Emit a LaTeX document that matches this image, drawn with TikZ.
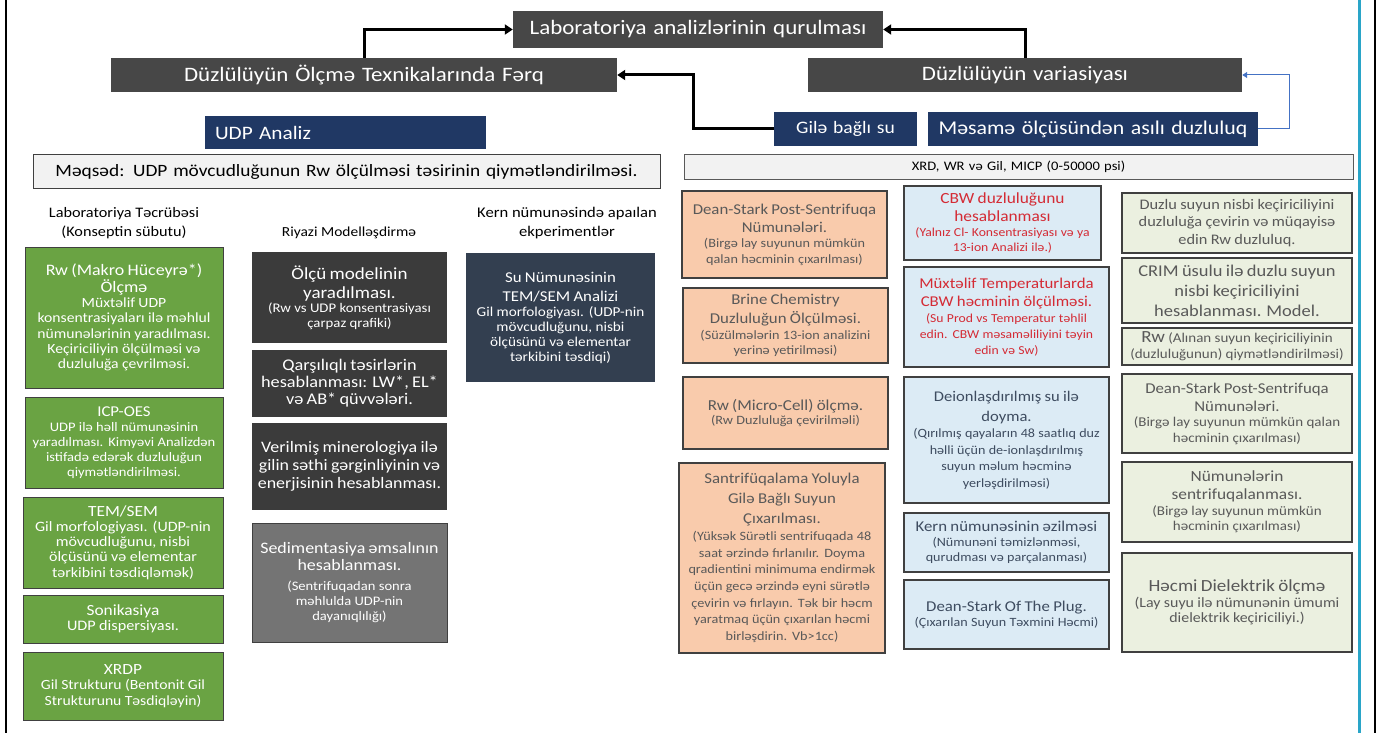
\documentclass[tikz,border=0pt]{standalone}
\usepackage{fontspec}
\setmainfont{Carlito}[FakeStretch=1.12]
\usetikzlibrary{arrows.meta}
\definecolor{topgray}{HTML}{474747}
\definecolor{navy}{HTML}{203864}
\definecolor{slate}{HTML}{333F50}
\definecolor{riydark}{HTML}{3B3B3B}
\definecolor{riylight}{HTML}{747474}
\definecolor{grn}{HTML}{6AA343}
\definecolor{peach}{HTML}{F9CBAC}
\definecolor{lblue}{HTML}{DCEBF5}
\definecolor{pgreen}{HTML}{EBF0E0}
\definecolor{lgray}{HTML}{F2F2F2}
\definecolor{bord}{HTML}{404040}
\definecolor{txgray}{HTML}{595959}
\definecolor{txslate}{HTML}{3E4C60}
\definecolor{txred}{HTML}{D42B35}
\definecolor{bordblue}{HTML}{2AA5C8}
\definecolor{arrblue}{HTML}{4472C4}
\newcommand\fs[2]{\fontsize{#1}{#2}\selectfont}
\newcommand\bx[7]{%
  \pgfmathsetmacro\bxw{#5-#3}\pgfmathsetmacro\bxh{#6-#4}\pgfmathsetmacro\bxt{#5-#3-4}%
  \node[#2, minimum width=\bxw pt, minimum height=\bxh pt, text width=\bxt pt,
        inner sep=0pt, align=center] (#1) at ({(#3+#5)/2},{(#4+#6)/2}) {#7};}
\tikzset{
  topbox/.style={fill=topgray, text=white, font=\fs{20.5}{22}},
  navybox/.style={fill=navy, text=white},
  greenbox/.style={fill=grn, draw=bord, line width=0.8pt, text=white},
  riybox/.style={fill=riydark, text=white},
  riylbox/.style={fill=riylight, draw=bord, line width=0.8pt, text=white},
  kernbox/.style={fill=slate, text=white},
  peachbox/.style={fill=peach, draw=bord, line width=1.2pt, text=txgray},
  bluebox/.style={fill=lblue, draw=bord, line width=1.2pt, text=txslate},
  redbox/.style={fill=lblue, draw=bord, line width=1.2pt, text=txred},
  pgbox/.style={fill=pgreen, draw=bord, line width=1.2pt, text=txgray},
  graybox/.style={fill=lgray, draw=bord, line width=1pt, text=black},
  header/.style={align=center, inner sep=0pt, text=black},
  blk/.style={line width=3pt, -{Triangle[length=8pt,width=10pt]}},
  blu/.style={line width=1pt, draw=arrblue, -{Triangle[length=5pt,width=6pt]}}
}
\begin{document}
\begin{tikzpicture}[x=1pt,y=-1pt]
\useasboundingbox (0,0) rectangle (1376,733);
\fill[white] (0,0) rectangle (1376,733);
\draw[line width=2.5pt] (6,0) -- (6,733);
\draw[line width=3pt, bordblue] (1359,0) -- (1359,733);
\draw[line width=2pt] (1375,0) -- (1375,733);

% top level
\bx{lab}{topbox}{513}{11}{883}{48}{Laboratoriya analizlərinin qurulması}
\bx{dzo}{topbox}{111}{58}{617}{92}{Düzlülüyün Ölçmə Texnikalarında Fərq}
\bx{dzv}{topbox}{808}{58}{1242}{92}{Düzlülüyün variasiyası}
\bx{gil}{navybox, font=\fs{17.5}{20}}{774}{112}{917}{146}{Gilə bağlı su}
\bx{mas}{navybox, font=\fs{19.5}{22}}{928}{112}{1258}{146}{Məsamə ölçüsündən asılı duzluluq}
\node[navybox, font=\fs{19}{22}, minimum width=281pt, minimum height=33pt, text width=261pt,
      inner sep=0pt, align=left] (udp) at (345.5,132.5) {UDP Analiz};
\bx{mq}{graybox, font=\fs{17.3}{20}}{33}{155}{660}{188}{Məqsəd: UDP mövcudluğunun Rw ölçülməsi təsirinin qiymətləndirilməsi.}
\bx{xrd}{graybox, draw=txgray, font=\fs{13}{14}}{684}{155}{1353}{179}{XRD, WR və Gil, MICP (0-50000 psi)}

\coordinate (c1) at (693,0);
\coordinate (c2) at (1289,0);
\draw[blk] (dzo.north) |- (lab.west);
\draw[blk] (dzv.north) |- (lab.east);
\draw[blk] (gil.west) -- (gil.west -| c1) |- (dzo.east);
\draw[blu] (mas.east) -- (mas.east -| c2) |- (dzv.east);

% headers
\node[header, font=\fs{14.5}{19}] (h1) at (124,223) {Laboratoriya Təcrübəsi\\(Konseptin sübutu)};
\node[header, font=\fs{13.8}{17}] (h2) at (349,233) {Riyazi Modelləşdirmə};
\node[header, font=\fs{14.8}{19}] (h3) at (567,223) {Kern nümunəsində apaılan\\ekperimentlər};

% green column
\bx{g1}{greenbox}{25}{247}{223}{388}{{\fs{16}{17}Rw (Makro Hüceyrə*)\\Ölçmə\par}{\fs{14}{15.3}Müxtəlif UDP\\konsentrasiyaları ilə məhlul\\nümunələrinin  yaradılması.\\Keçiriciliyin ölçülməsi və\\duzluluğa çevrilməsi.\par}}
\bx{g2}{greenbox}{25}{397}{223}{488}{{\fs{15}{16}ICP-OES\par}{\fs{13}{15}UDP ilə həll nümunəsinin\\yaradılması. Kimyəvi Analizdən\\istifadə edərək duzluluğun\\qiymətləndirilməsi.\par}}
\bx{g3}{greenbox}{23}{497}{223}{588}{{\fs{15.5}{16}TEM/SEM\par}{\fs{14.3}{15.2}Gil morfologiyası.  (UDP-nin\\mövcudluğunu, nisbi\\ölçüsünü və elementar\\tərkibini təsdiqləmək)\par}}
\bx{g4}{greenbox}{23}{595}{223}{643}{{\fs{15.5}{16}Sonikasiya\par}{\fs{14.5}{15.5}UDP dispersiyası.\par}}
\bx{g5}{greenbox}{23}{652}{223}{720}{{\fs{15.5}{16}XRDP\par}{\fs{14}{15.5}Gil Strukturu (Bentonit Gil\\Strukturunu Təsdiqləyin)\par}}

% Riyazi column
\bx{r1}{riybox}{252}{252}{447}{343}{{\fs{17}{19}Ölçü modelinin\\yaradılması.\par}{\fs{13.2}{14.5}(Rw vs UDP konsentrasiyası\\çarpaz qrafiki)\par}}
\bx{r2}{riybox}{252}{350}{447}{417}{{\fs{16.3}{17}Qarşılıqlı təsirlərin\\hesablanması: LW*, EL*\\və AB* qüvvələri.\par}}
\bx{r3}{riybox}{252}{423}{447}{510}{{\fs{16}{18}Verilmiş minerologiya ilə\\gilin səthi gərginliyinin və\\enerjisinin hesablanması.\par}}
\bx{r4}{riylbox}{252}{523}{447}{642}{{\fs{16}{17.5}Sedimentasiya əmsalının\\hesablanması.\par}\vspace{5pt}{\fs{13}{15}(Sentrifuqadan sonra\\məhlulda UDP-nin\\dayanıqlılığı)\par}}

% Kern column
\bx{k1}{kernbox}{466}{253}{655}{382}{{\fs{15}{19}Su Nümunəsinin\\TEM/SEM Analizi\par}{\fs{13.6}{15}Gil morfologiyası. (UDP-nin\\mövcudluğunu, nisbi\\ölçüsünü və elementar\\tərkibini təsdiqi)\par}}

% orange column
\bx{o1}{peachbox}{682}{191}{887}{278}{{\fs{15}{18}Dean-Stark Post-Sentrifuqa\\Nümunələri.\par}{\fs{12.7}{15.5}(Birgə lay suyunun mümkün\\qalan həcminin çıxarılması)\par}}
\bx{o2}{peachbox}{683}{288}{888}{363}{{\fs{15}{19}Brine Chemistry\\Duzluluğun Ölçülməsi.\par}{\fs{12.7}{15.5}(Süzülmələrin 13-ion analizini\\yerinə yetirilməsi)\par}}
\bx{o3}{peachbox}{683}{377}{888}{449}{{\fs{15.2}{17}Rw (Micro-Cell) ölçmə.\par}{\fs{12.7}{14}(Rw Duzluluğa çevirilməli)\par}}
\bx{o4}{peachbox}{679}{463}{885}{653}{{\fs{15}{20}Santrifüqalama Yoluyla\\Gilə Bağlı Suyun\\Çıxarılması.\par}{\fs{12.7}{16.7}(Yüksək Sürətli sentrifuqada 48\\saat ərzində fırlanılır. Doyma\\qradientini minimuma endirmək\\üçün gecə ərzində eyni sürətlə\\çevirin və fırlayın. Tək bir həcm\\yaratmaq üçün çıxarılan həcmi\\birləşdirin. Vb>1cc)\par}}

% blue column
\bx{b1}{redbox}{904}{186}{1101}{260}{{\fs{15.5}{18}CBW duzluluğunu\\hesablanması\par}{\fs{12.2}{15}(Yalnız Cl- Konsentrasiyası və ya\\13-ion Analizi ilə.)\par}}
\bx{b2}{redbox}{904}{267}{1109}{367}{{\fs{15}{18}Müxtəlif Temperaturlarda\\CBW həcminin ölçülməsi.\par}{\fs{12.2}{16}(Su Prod vs Temperatur  təhlil\\edin. CBW məsaməliliyini təyin\\edin və Sw)\par}}
\bx{b3}{bluebox}{904}{377}{1109}{503}{{\fs{14.8}{20}Deionlaşdırılmış su ilə\\doyma.\par}{\fs{12.6}{16.5}(Qırılmış qayaların 48 saatlıq duz\\həlli üçün de-ionlaşdırılmış\\suyun məlum  həcminə\\yerləşdirilməsi)\par}}
\bx{b4}{bluebox}{904}{513}{1109}{572}{{\fs{15}{18}Kern nümunəsinin əzilməsi\par}{\fs{12.6}{15}(Nümunəni  təmizlənməsi,\\qurudması və parçalanması)\par}}
\bx{b5}{bluebox}{904}{580}{1109}{649}{{\fs{15}{19}Dean-Stark Of The Plug.\par}{\fs{12.6}{15}(Çıxarılan Suyun Təxmini Həcmi)\par}}

% pale green column
\bx{p1}{pgbox}{1122}{193}{1352}{253}{{\fs{14.6}{17.5}Duzlu suyun nisbi keçiriciliyini\\duzluluğa çevirin və müqayisə\\edin Rw duzluluq.\par}}
\bx{p2}{pgbox}{1122}{258}{1352}{323}{{\fs{16.5}{20}CRIM üsulu ilə duzlu  suyun\\nisbi keçiriciliyini\\hesablanması. Model.\par}}
\bx{p3}{pgbox}{1122}{328}{1352}{365}{{\fs{13.4}{16}{\fs{17}{16}Rw} (Alınan suyun keçiriciliyinin\\(duzluluğunun) qiymətləndirilməsi)\par}}
\bx{p4}{pgbox}{1122}{374}{1352}{453}{{\fs{15}{18}Dean-Stark Post-Sentrifuqa\\Nümunələri.\par}{\fs{13.4}{15.5}(Birgə lay suyunun mümkün  qalan\\həcminin çıxarılması)\par}}
\bx{p5}{pgbox}{1122}{462}{1352}{542}{{\fs{15.5}{18}Nümunələrin\\sentrifuqalanması.\par}{\fs{13.4}{15.5}(Birgə lay suyunun mümkün\\həcminin çıxarılması)\par}}
\bx{p6}{pgbox}{1122}{553}{1352}{652}{{\fs{17}{19}Həcmi Dielektrik ölçmə\par}{\fs{14.2}{15.5}(Lay suyu ilə nümunənin ümumi\\dielektrik keçiriciliyi.)\par}}
\end{tikzpicture}
\end{document}
